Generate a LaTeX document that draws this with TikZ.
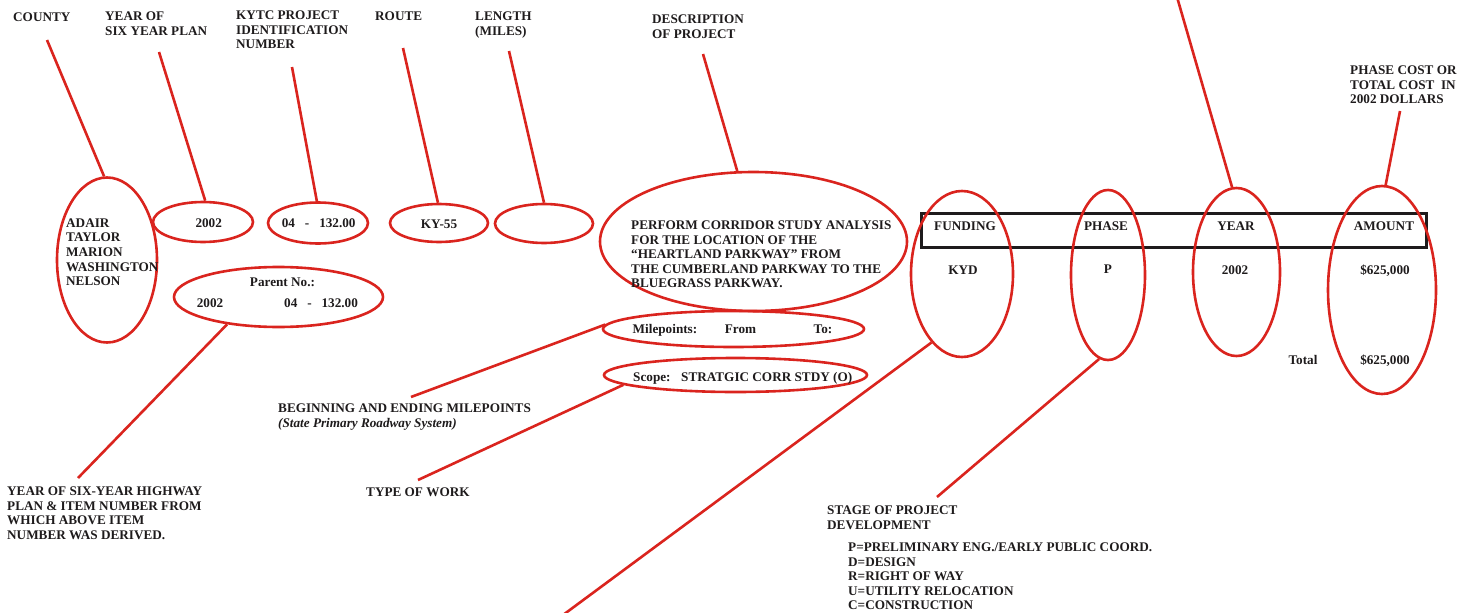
\documentclass[tikz,border=0pt]{standalone}
\usepackage{fontspec}
\setmainfont{Liberation Serif}
\usetikzlibrary{shapes.geometric}
\definecolor{kred}{RGB}{218,36,30}
\definecolor{ktext}{RGB}{30,27,28}
\begin{document}
\begin{tikzpicture}[x=1pt,y=-1pt,
  ell/.style={draw=kred, line width=2.6pt, ellipse, inner sep=0pt},
  lead/.style={draw=kred, line width=2.6pt},
  lbl/.style={font=\fontsize{13.2}{14.6}\selectfont\bfseries, align=left, inner sep=0pt, anchor=north west, text=ktext},
  val/.style={font=\fontsize{13.2}{14.6}\selectfont\bfseries, inner sep=0pt, text height=8.8pt, text depth=0pt, text=ktext},
]
\useasboundingbox (0,0) rectangle (1473,613);
% header box
\node[draw=ktext, line width=3pt, minimum width=505pt, minimum height=34pt, inner sep=0pt] (hdr) at (1173.5,230) {};
% ellipses
\node[ell, minimum width=100pt, minimum height=165pt] (county) at (107,260) {};
\node[ell, minimum width=100pt, minimum height=40pt] (yr) at (203,222) {};
\node[ell, minimum width=100pt, minimum height=41pt] (kytc) at (318,223) {};
\node[ell, minimum width=98pt, minimum height=38pt] (route) at (439,223) {};
\node[ell, minimum width=98pt, minimum height=39pt] (len) at (544,223.5) {};
\node[ell, minimum width=209pt, minimum height=60pt] (parent) at (278.5,297) {};
\node[ell, minimum width=307pt, minimum height=139pt] (desc) at (753.5,241.5) {};
\node[ell, minimum width=261pt, minimum height=36pt] (mile) at (733.5,329) {};
\node[ell, minimum width=263pt, minimum height=34pt] (scope) at (735.5,375) {};
\node[ell, minimum width=102pt, minimum height=166pt] (fund) at (962,274) {};
\node[ell, minimum width=74pt, minimum height=170pt] (phase) at (1108,275) {};
\node[ell, minimum width=87pt, minimum height=168pt] (year) at (1236.5,272) {};
\node[ell, minimum width=108pt, minimum height=208pt] (amount) at (1382,290) {};
% top labels
\node[lbl] (lcounty) at (13,12.6) {COUNTY};
\node[lbl] (lyear) at (105,11.6) {YEAR OF\\SIX YEAR PLAN};
\node[lbl] (lkytc) at (236,10.6) {KYTC PROJECT\\IDENTIFICATION\\NUMBER};
\node[lbl] (lroute) at (375,11.6) {ROUTE};
\node[lbl] (llen) at (475,11.6) {LENGTH\\(MILES)};
\node[lbl] (ldesc) at (652,14.6) {DESCRIPTION\\OF PROJECT};
\node[lbl] (lcost) at (1350,65.6) {PHASE COST OR\\TOTAL COST\ \ IN\\2002 DOLLARS};
% free ends
\coordinate (ecounty) at (47,40);
\coordinate (eyear) at (159,52);
\coordinate (ekytc) at (292,67);
\coordinate (eroute) at (403,48);
\coordinate (elen) at (509,51);
\coordinate (edesc) at (703,54);
\coordinate (etop) at (1177,-3);
\coordinate (ecost) at (1400,111);
\coordinate (eparent) at (78,478);
\coordinate (emile) at (411,397);
\coordinate (escope) at (418,480);
\coordinate (efund) at (563,615);
\coordinate (ephase) at (937,497);
% leaders
\draw[lead] (ecounty) -- (county.92);
\draw[lead] (eyear) -- (yr.84);
\draw[lead] (ekytc) -- (kytc.93);
\draw[lead] (eroute) -- (route.93);
\draw[lead] (elen) -- (len.90);
\draw[lead] (edesc) -- (desc.103);
\draw[lead] (etop) -- (year.93);
\draw[lead] (ecost) -- (amount.88);
\draw[lead] (parent.208.5) -- (eparent);
\draw[lead] (mile.178) -- (emile);
\draw[lead] (scope.185) -- (escope);
\draw[lead] (fund.246.5) -- (efund);
\draw[lead] (phase.264) -- (ephase);
% ellipse contents
\node[lbl] (tcounty) at (66,218.4) {ADAIR\\TAYLOR\\MARION\\WASHINGTON\\NELSON};
\node[val] (t2002) at (208.7,223) {2002};
\node[val] (tkytc) at (318.7,223) {04\ \ \ -\ \ \ 132.00};
\node[val] (troute) at (439,224) {KY-55};
\node[val] (tparent) at (282.5,282) {Parent No.:};
\node[val] (tp2002) at (210,303) {2002};
\node[val] (tpnum) at (321,302.7) {04\ \ \ -\ \ \ 132.00};
\node[lbl] (tdesc) at (631,220.6) {PERFORM CORRIDOR STUDY ANALYSIS\\FOR THE LOCATION OF THE\\``HEARTLAND PARKWAY'' FROM\\THE CUMBERLAND PARKWAY TO THE\\BLUEGRASS PARKWAY.};
\node[val] (tmile) at (665,329) {Milepoints:};
\node[val] (tfrom) at (740.5,329) {From};
\node[val] (tto) at (823,329) {To:};
\node[val, anchor=west] (tscope) at (633,377) {Scope:};
\node[val, anchor=west] (tscopev) at (681,377) {STRATGIC CORR STDY (O)};
% table
\node[val] (hfund) at (965,226) {FUNDING};
\node[val] (hphase) at (1106,226) {PHASE};
\node[val] (hyear) at (1236,226) {YEAR};
\node[val] (hamount) at (1384,226) {AMOUNT};
\node[val] (vfund) at (963,270) {KYD};
\node[val] (vphase) at (1108,269) {P};
\node[val] (vyear) at (1235,270) {2002};
\node[val] (vamount) at (1385,270) {\$625,000};
\node[val] (ttotal) at (1303,360) {Total};
\node[val] (vtotal) at (1385,360) {\$625,000};
% bottom labels
\node[lbl] (lparent) at (7,486.6) {YEAR OF SIX-YEAR HIGHWAY\\PLAN \& ITEM NUMBER FROM\\WHICH ABOVE ITEM\\NUMBER WAS DERIVED.};
\node[lbl] (lmile) at (278,403.6) {BEGINNING AND ENDING MILEPOINTS\\{\itshape (State Primary Roadway System)}};
\node[lbl] (lwork) at (366,487.6) {TYPE OF WORK};
\node[lbl] (lstage) at (827,505.6) {STAGE OF PROJECT\\DEVELOPMENT};
\node[lbl] (lcodes) at (848,542.6) {P=PRELIMINARY ENG./EARLY PUBLIC COORD.\\D=DESIGN\\R=RIGHT OF WAY\\U=UTILITY RELOCATION\\C=CONSTRUCTION};
\end{tikzpicture}
\end{document}
